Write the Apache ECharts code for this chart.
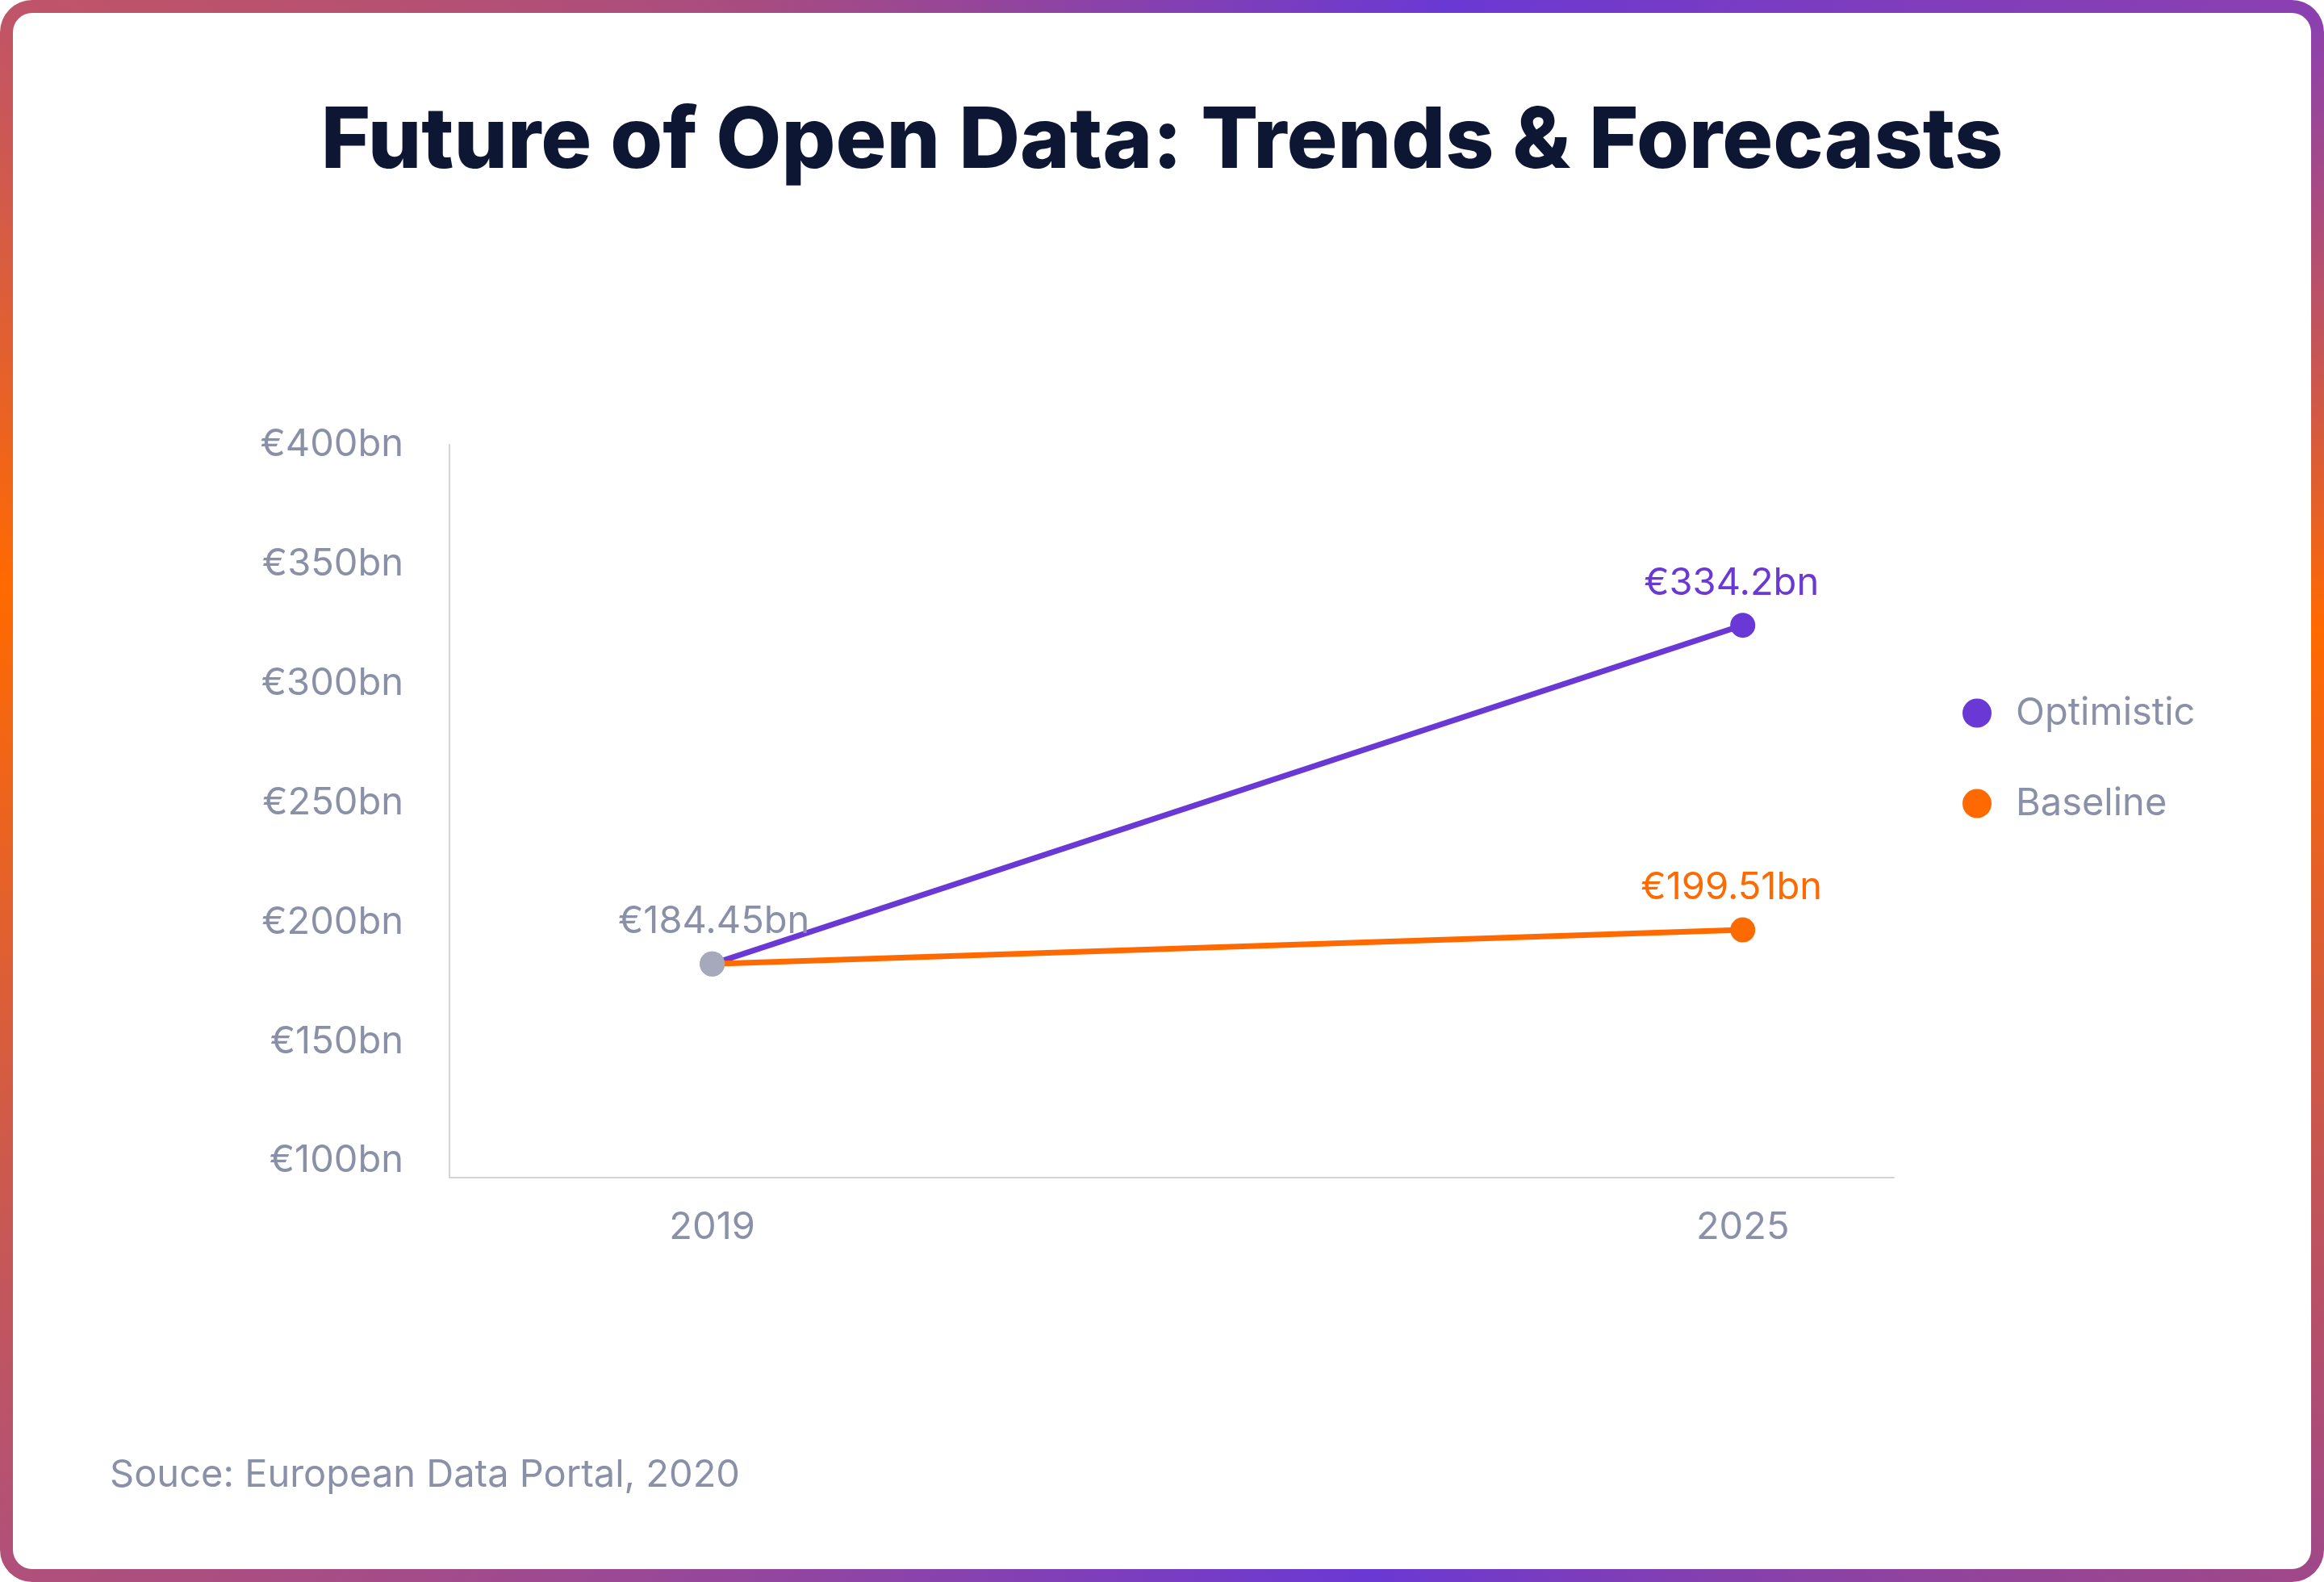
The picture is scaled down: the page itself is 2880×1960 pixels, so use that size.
<!DOCTYPE html>
<html>
<head>
<meta charset="utf-8">
<script src="https://cdn.jsdelivr.net/npm/echarts@6/dist/echarts.min.js"></script>
<style>
html,body{margin:0;padding:0;width:2880px;height:1960px;overflow:hidden;background:#fff}
#frame{position:absolute;left:0;top:0;width:2880px;height:1960px;border-radius:40px;
  background:conic-gradient(from 20deg at 50% 50%, #6A38D4 0deg, #8A40B0 36deg, #FF6A00 62deg, #A04888 104deg, #6A38D4 145deg, #B0507A 216deg, #FF6A00 260deg, #C05468 284deg, #A84C80 312deg, #6A38D4 360deg);}
#inner{position:absolute;left:16px;top:16px;right:16px;bottom:16px;background:#fff;border-radius:24px}
#chart{position:absolute;left:0;top:0;width:2880px;height:1960px}
</style>
</head>
<body>
<div id="frame"><div id="inner"></div></div>
<div id="chart"></div>
<script>
// ---- data ----
const years = [2019, 2025];
const optimistic = [184.45, 334.2];
const baseline = [184.45, 199.51];
const seriesNames = ['Optimistic', 'Baseline'];
const yTicks = [100, 150, 200, 250, 300, 350, 400];
const xTicks = [2019, 2025];
const titleText = 'Future of Open Data: Trends & Forecasts';
const sourceText = 'Souce: European Data Portal, 2020';

// ---- styles ----
const PURPLE = '#6A38D4';
const ORANGE = '#FF6A00';
const DOT_GRAY = '#A5A9BB';
const TEXT_GRAY = '#8A90A8';
const AXIS_GRAY = '#D3D3DF';
const FONT = 'Inter';
const FS = 47;

const chart = echarts.init(document.getElementById('chart'), null, {renderer: 'canvas'});

function fmt(v) { return '\u20AC' + v + 'bn'; }

function buildData(vals, showFirst) {
  return vals.map(function (v, i) {
    const item = { value: [years[i], v] };
    if (i === 0) {
      item.itemStyle = { color: DOT_GRAY };
      item.label = { show: showFirst, color: TEXT_GRAY, offset: [2, 0] };
    } else {
      item.label = { show: true, offset: [-14, 0] };
    }
    return item;
  });
}

function makeSeries(name, vals, color, showFirst) {
  return {
    name: name,
    type: 'line',
    xAxisIndex: 0,
    yAxisIndex: 1,
    data: buildData(vals, showFirst),
    symbol: 'circle',
    symbolSize: 31,
    lineStyle: { color: color, width: 7 },
    itemStyle: { color: color },
    emphasis: { disabled: true },
    label: {
      show: true,
      position: 'top',
      distance: 13,
      fontFamily: FONT,
      fontSize: FS,
      color: color,
      formatter: function (p) { return fmt(p.value[1]); }
    },
    animation: false
  };
}

chart.setOption({
  backgroundColor: 'transparent',
  animation: false,
  title: [
    {
      text: titleText,
      left: 'center',
      top: 119,
      textStyle: { fontFamily: FONT, fontSize: 105, fontWeight: 800, color: '#0D1633' }
    },
    {
      text: sourceText,
      left: 131,
      top: 1799,
      textStyle: { fontFamily: FONT, fontSize: FS, fontWeight: 'normal', color: TEXT_GRAY }
    }
  ],
  legend: {
    orient: 'vertical',
    left: 2432,
    top: 860,
    padding: 0,
    itemWidth: 36,
    itemHeight: 36,
    itemGap: 65,
    icon: 'circle',
    data: seriesNames,
    textStyle: { fontFamily: FONT, fontSize: FS, color: TEXT_GRAY, padding: [0, 0, 0, 25] }
  },
  grid: { left: 557, right: 533, top: 551, bottom: 501, containLabel: false },
  xAxis: {
    type: 'value',
    min: 2017.47,
    max: 2025.88,
    axisLine: { show: true, onZero: false, lineStyle: { color: AXIS_GRAY, width: 2 } },
    axisTick: { show: false },
    splitLine: { show: false },
    axisLabel: {
      customValues: xTicks,
      formatter: function (v) { return String(v); },
      fontFamily: FONT, fontSize: FS, color: TEXT_GRAY, margin: 38
    }
  },
  yAxis: [
    {
      type: 'value',
      min: 93,
      max: 400,
      axisLine: { show: true, onZero: false, lineStyle: { color: AXIS_GRAY, width: 2 } },
      axisTick: { show: false },
      splitLine: { show: false },
      axisLabel: {
        customValues: yTicks,
        formatter: function (v) { return fmt(v); },
        fontFamily: FONT, fontSize: FS, color: TEXT_GRAY, margin: 57
      }
    },
    {
      type: 'value',
      min: 90,
      max: 414,
      show: false
    }
  ],
  series: [
    makeSeries(seriesNames[0], optimistic, PURPLE, true),
    makeSeries(seriesNames[1], baseline, ORANGE, false)
  ]
});
</script>
</body>
</html>
